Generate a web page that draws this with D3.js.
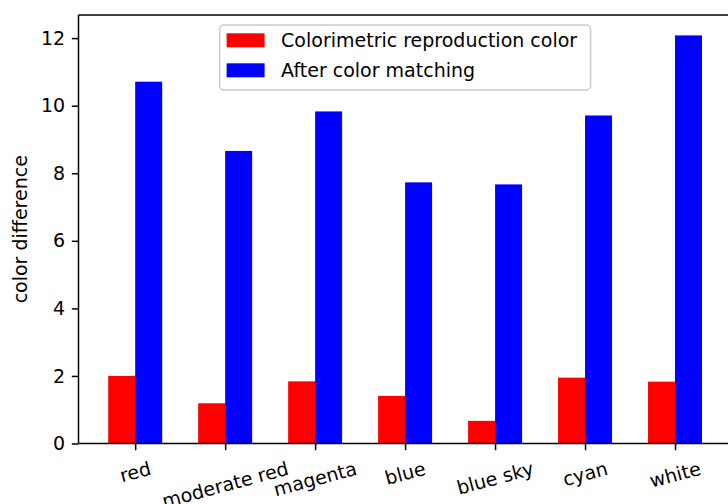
<!DOCTYPE html>
<html>
<head>
<meta charset="utf-8">
<script src="https://cdn.jsdelivr.net/npm/d3@7"></script>
<style>
  html, body { margin: 0; padding: 0; background: #fff; }
  svg { display: block; }
  text { font-family: "DejaVu Sans", sans-serif; fill: #000; }
</style>
</head>
<body>
<svg id="chart" width="728" height="504"></svg>
<script>
const categories = ["red", "moderate red", "magenta", "blue", "blue sky", "cyan", "white"];
const colorimetric = [2.0, 1.19, 1.84, 1.41, 0.67, 1.95, 1.83];
const afterMatching = [10.71, 8.66, 9.83, 7.73, 7.67, 9.71, 12.08];
const seriesNames = ["Colorimetric reproduction color", "After color matching"];
const seriesColors = ["#ff0000", "#0000ff"];
const yTicks = [0, 2, 4, 6, 8, 10, 12];
const yLabel = "color difference";

(function () {
const svg = d3.select("#chart");
const fs = 19;
const mLeft = 78.5, mRight = 731.7, mTop = 15, mBottom = 443.5;
const barW = 0.3;
const n = categories.length;
const pad = (n - 1 + 2 * barW) * 0.05;

const x = d3.scaleLinear().domain([-barW - pad, n - 1 + barW + pad]).range([mLeft, mRight]);
const ymax = d3.max(colorimetric.concat(afterMatching)) * 1.05;
const y = d3.scaleLinear().domain([0, ymax]).range([mBottom, mTop]);

// bars
const series = [colorimetric, afterMatching];
series.forEach((vals, s) => {
  svg.append("g").selectAll("rect").data(vals).join("rect")
    .attr("x", (d, i) => x(i + (s === 0 ? -barW : 0)))
    .attr("width", (d, i) => x(i + barW) - x(i))
    .attr("y", d => y(d))
    .attr("height", d => y(0) - y(d))
    .attr("fill", seriesColors[s]);
});

// y axis
const yAxis = d3.axisLeft(y).tickValues(yTicks).tickSize(6.7).tickPadding(6.7).tickFormat(d3.format("d"));
const gy = svg.append("g").attr("transform", `translate(${mLeft},0)`).call(yAxis);
gy.select(".domain").remove();
gy.selectAll("line").attr("stroke", "#000").attr("stroke-width", 1.5);
gy.selectAll("text").attr("font-size", fs).attr("font-family", "DejaVu Sans").attr("fill", "#000");

// x axis
const xAxis = d3.axisBottom(x).tickValues(d3.range(n)).tickSize(6.7).tickFormat("");
const gx = svg.append("g").attr("transform", `translate(0,${mBottom})`).call(xAxis);
gx.select(".domain").remove();
gx.selectAll("line").attr("stroke", "#000").attr("stroke-width", 1.5);

// rotated x tick labels (15 deg), bbox centered horizontally, top at tick+pad
const rot = 15 * Math.PI / 180;
const lblG = svg.append("g");
categories.forEach((c, i) => {
  const t = lblG.append("text").text(c).attr("font-size", fs)
    .attr("text-anchor", "middle").attr("dominant-baseline", "central");
  const w = t.node().getComputedTextLength();
  const h = fs * 1.17;
  const bh = w * Math.sin(rot) + h * Math.cos(rot);
  const cy = mBottom + 6.7 + 6.7 + bh / 2;
  t.attr("transform", `translate(${x(i)},${cy}) rotate(-15)`);
});

// spines
const sp = svg.append("g").attr("stroke", "#000").attr("stroke-width", 1.5).attr("fill", "none");
sp.append("line").attr("x1", mLeft).attr("x2", mLeft).attr("y1", mTop).attr("y2", mBottom);
sp.append("line").attr("x1", mLeft).attr("x2", mRight).attr("y1", mBottom).attr("y2", mBottom);
sp.append("line").attr("x1", mLeft).attr("x2", mRight).attr("y1", mTop).attr("y2", mTop);
sp.append("line").attr("x1", mRight).attr("x2", mRight).attr("y1", mTop).attr("y2", mBottom);

// y label
svg.append("text").text(yLabel).attr("font-size", fs)
  .attr("text-anchor", "middle").attr("dominant-baseline", "central")
  .attr("transform", `translate(19.5,${(mTop + mBottom) / 2}) rotate(-90)`);

// legend (upper center)
const lgW = 371, lgH = 65;
const lgX = (mLeft + mRight) / 2 - lgW / 2, lgY = 25;
const lg = svg.append("g");
lg.append("rect").attr("x", lgX).attr("y", lgY).attr("width", lgW).attr("height", lgH)
  .attr("rx", 4).attr("fill", "#fff").attr("fill-opacity", 0.8)
  .attr("stroke", "#cccccc").attr("stroke-width", 1.5);
seriesNames.forEach((name, s) => {
  const cy = lgY + 15.3 + s * 30;
  lg.append("rect").attr("x", lgX + 7).attr("y", cy - 7).attr("width", 38).attr("height", 14)
    .attr("fill", seriesColors[s]);
  lg.append("text").text(name).attr("x", lgX + 61.5).attr("y", cy)
    .attr("font-size", fs).attr("dominant-baseline", "central");
});
})();
</script>
</body>
</html>
